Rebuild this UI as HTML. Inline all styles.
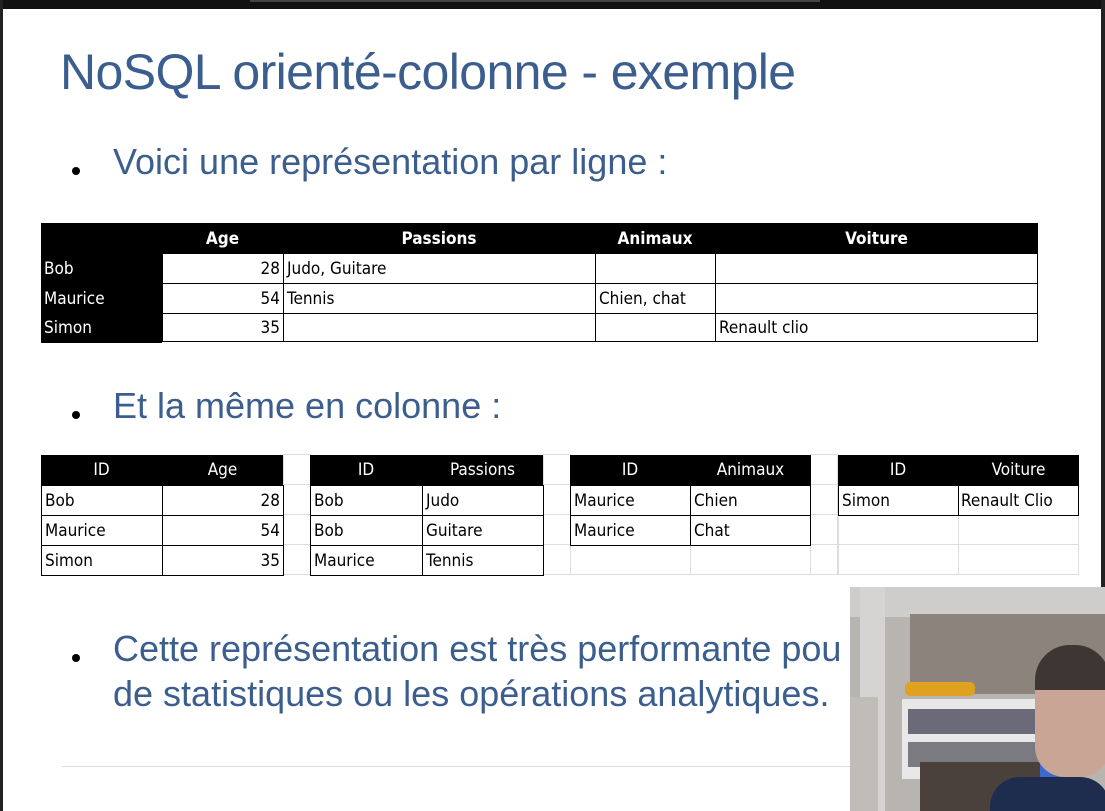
<!DOCTYPE html>
<html><head><meta charset="utf-8"><style>
body{margin:0;width:1105px;height:811px;overflow:hidden;background:#fff;position:relative;font-family:"Liberation Sans",sans-serif}
.a{position:absolute}
.t{font-family:"Liberation Sans",sans-serif;color:#3b5e8e;white-space:nowrap}
.c{position:absolute;box-sizing:border-box;font-family:"DejaVu Sans Condensed","Liberation Sans",sans-serif;font-size:17px;line-height:30px;padding:0 3px;white-space:nowrap;overflow:hidden}
.h{background:#000;color:#fff;text-align:center}
.b{border:1.5px solid #000;background:#fff;color:#000}
.g{border:1px solid #ddd}
.r{text-align:right}
.dot{position:absolute;width:8px;height:8px;border-radius:50%;background:#000}
</style></head><body>
<div class="a" style="left:0;top:0;width:1105px;height:9px;background:#111"></div>
<div class="a" style="left:250px;top:0;width:570px;height:2px;background:#444"></div>
<div class="a" style="left:0;top:0;width:3px;height:811px;background:#222"></div>
<div class="a" style="left:1101px;top:0;width:4px;height:590px;background:#222"></div>
<div class="a t" style="left:60px;top:43px;font-size:50px;letter-spacing:-0.6px">NoSQL orienté-colonne - exemple</div>
<div class="dot" style="left:72px;top:167px"></div>
<div class="a t" style="left:113px;top:141px;font-size:36px">Voici une représentation par ligne :</div>
<div class="dot" style="left:72px;top:411px"></div>
<div class="a t" style="left:113px;top:385px;font-size:36px">Et la même en colonne :</div>
<div class="dot" style="left:72px;top:654px"></div>
<div class="a t" style="left:113px;top:626px;font-size:36px;line-height:45px">Cette représentation est très performante pou<br>de statistiques ou les opérations analytiques.</div>
<div class="a" style="left:62px;top:766px;width:790px;height:1px;background:#ddd"></div>

<!-- top table -->
<div class="c h" style="left:41px;top:223px;width:997px;height:30px"></div>
<div class="c h" style="left:41px;top:223px;width:121px;height:118px"></div>
<div class="c h" style="left:162px;top:224px;width:121px;font-weight:bold">Age</div>
<div class="c h" style="left:283px;top:224px;width:312px;font-weight:bold">Passions</div>
<div class="c h" style="left:595px;top:224px;width:120px;font-weight:bold">Animaux</div>
<div class="c h" style="left:715px;top:224px;width:323px;font-weight:bold">Voiture</div>
<div class="c h" style="left:41px;top:254px;width:121px;text-align:left">Bob</div>
<div class="c h" style="left:41px;top:284px;width:121px;text-align:left">Maurice</div>
<div class="c h" style="left:41px;top:313px;width:121px;text-align:left">Simon</div>
<div class="c b r" style="left:162px;top:253px;width:122px;height:31px">28</div>
<div class="c b" style="left:283px;top:253px;width:313px;height:31px">Judo, Guitare</div>
<div class="c b" style="left:595px;top:253px;width:121px;height:31px"></div>
<div class="c b" style="left:715px;top:253px;width:323px;height:31px"></div>
<div class="c b r" style="left:162px;top:283px;width:122px;height:31px">54</div>
<div class="c b" style="left:283px;top:283px;width:313px;height:31px">Tennis</div>
<div class="c b" style="left:595px;top:283px;width:121px;height:31px">Chien, chat</div>
<div class="c b" style="left:715px;top:283px;width:323px;height:31px"></div>
<div class="c b r" style="left:162px;top:313px;width:122px;height:29px;line-height:28px">35</div>
<div class="c b" style="left:283px;top:313px;width:313px;height:29px"></div>
<div class="c b" style="left:595px;top:313px;width:121px;height:29px"></div>
<div class="c b" style="left:715px;top:313px;width:323px;height:29px;line-height:28px">Renault clio</div>

<!-- light grid -->
<div class="c g" style="left:283px;top:454px;width:28px;height:31px"></div>
<div class="c g" style="left:283px;top:484px;width:28px;height:31px"></div>
<div class="c g" style="left:283px;top:514px;width:28px;height:31px"></div>
<div class="c g" style="left:283px;top:544px;width:28px;height:31px"></div>
<div class="c g" style="left:543px;top:454px;width:28px;height:31px"></div>
<div class="c g" style="left:543px;top:484px;width:28px;height:31px"></div>
<div class="c g" style="left:543px;top:514px;width:28px;height:31px"></div>
<div class="c g" style="left:543px;top:544px;width:28px;height:31px"></div>
<div class="c g" style="left:810px;top:454px;width:28px;height:31px"></div>
<div class="c g" style="left:810px;top:484px;width:28px;height:31px"></div>
<div class="c g" style="left:810px;top:514px;width:28px;height:31px"></div>
<div class="c g" style="left:810px;top:544px;width:28px;height:31px"></div>
<div class="c g" style="left:570px;top:544px;width:121px;height:31px"></div>
<div class="c g" style="left:690px;top:544px;width:121px;height:31px"></div>
<div class="c g" style="left:838px;top:514px;width:121px;height:31px"></div>
<div class="c g" style="left:958px;top:514px;width:121px;height:31px"></div>
<div class="c g" style="left:838px;top:544px;width:121px;height:31px"></div>
<div class="c g" style="left:958px;top:544px;width:121px;height:31px"></div>

<!-- T1 -->
<div class="c h" style="left:41px;top:455px;width:121px;height:30px">ID</div>
<div class="c h" style="left:162px;top:455px;width:121px;height:30px">Age</div>
<div class="c b" style="left:41px;top:485px;width:122px;height:31px">Bob</div>
<div class="c b r" style="left:162px;top:485px;width:122px;height:31px">28</div>
<div class="c b" style="left:41px;top:515px;width:122px;height:31px">Maurice</div>
<div class="c b r" style="left:162px;top:515px;width:122px;height:31px">54</div>
<div class="c b" style="left:41px;top:545px;width:122px;height:31px">Simon</div>
<div class="c b r" style="left:162px;top:545px;width:122px;height:31px">35</div>
<!-- T2 -->
<div class="c h" style="left:310px;top:455px;width:112px;height:30px">ID</div>
<div class="c h" style="left:422px;top:455px;width:121px;height:30px">Passions</div>
<div class="c b" style="left:310px;top:485px;width:113px;height:31px">Bob</div>
<div class="c b" style="left:422px;top:485px;width:122px;height:31px">Judo</div>
<div class="c b" style="left:310px;top:515px;width:113px;height:31px">Bob</div>
<div class="c b" style="left:422px;top:515px;width:122px;height:31px">Guitare</div>
<div class="c b" style="left:310px;top:545px;width:113px;height:31px">Maurice</div>
<div class="c b" style="left:422px;top:545px;width:122px;height:31px">Tennis</div>
<!-- T3 -->
<div class="c h" style="left:570px;top:455px;width:120px;height:30px">ID</div>
<div class="c h" style="left:690px;top:455px;width:121px;height:30px">Animaux</div>
<div class="c b" style="left:570px;top:485px;width:121px;height:31px">Maurice</div>
<div class="c b" style="left:690px;top:485px;width:121px;height:31px">Chien</div>
<div class="c b" style="left:570px;top:515px;width:121px;height:31px">Maurice</div>
<div class="c b" style="left:690px;top:515px;width:121px;height:31px">Chat</div>
<!-- T4 -->
<div class="c h" style="left:838px;top:455px;width:120px;height:30px">ID</div>
<div class="c h" style="left:958px;top:455px;width:121px;height:30px">Voiture</div>
<div class="c b" style="left:838px;top:485px;width:121px;height:31px">Simon</div>
<div class="c b" style="left:958px;top:485px;width:121px;height:31px;padding:0 2px">Renault Clio</div>

<!-- webcam -->
<div class="a" style="left:850px;top:587px;width:255px;height:224px;background:#b8b4b0;overflow:hidden">
 <div class="a" style="left:0;top:0;width:255px;height:30px;background:#cfcdcb"></div>
 <div class="a" style="left:60px;top:27px;width:195px;height:80px;background:#8d837d"></div>
 <div class="a" style="left:10px;top:0;width:25px;height:224px;background:#d6d4d2"></div>
 <div class="a" style="left:0;top:110px;width:28px;height:114px;background:#c0bcb8"></div>
 <div class="a" style="left:55px;top:95px;width:70px;height:14px;background:#e0a020;border-radius:5px"></div>
 <div class="a" style="left:52px;top:112px;width:150px;height:80px;background:#e8e8e8"></div>
 <div class="a" style="left:58px;top:122px;width:138px;height:25px;background:#6a6a78"></div>
 <div class="a" style="left:58px;top:155px;width:138px;height:25px;background:#7a7a80"></div>
 <div class="a" style="left:70px;top:175px;width:130px;height:49px;background:#4a403c"></div>
 <div class="a" style="left:190px;top:155px;width:40px;height:50px;background:#3a6ad0"></div>
 <div class="a" style="left:185px;top:60px;width:75px;height:130px;background:#c9a595;border-radius:35px 35px 30px 30px"></div>
 <div class="a" style="left:185px;top:58px;width:75px;height:45px;background:#3e3632;border-radius:35px 35px 0 0"></div>
 <div class="a" style="left:140px;top:190px;width:120px;height:40px;background:#1e2c4e;border-radius:30px 30px 0 0"></div>
</div>
</body></html>
